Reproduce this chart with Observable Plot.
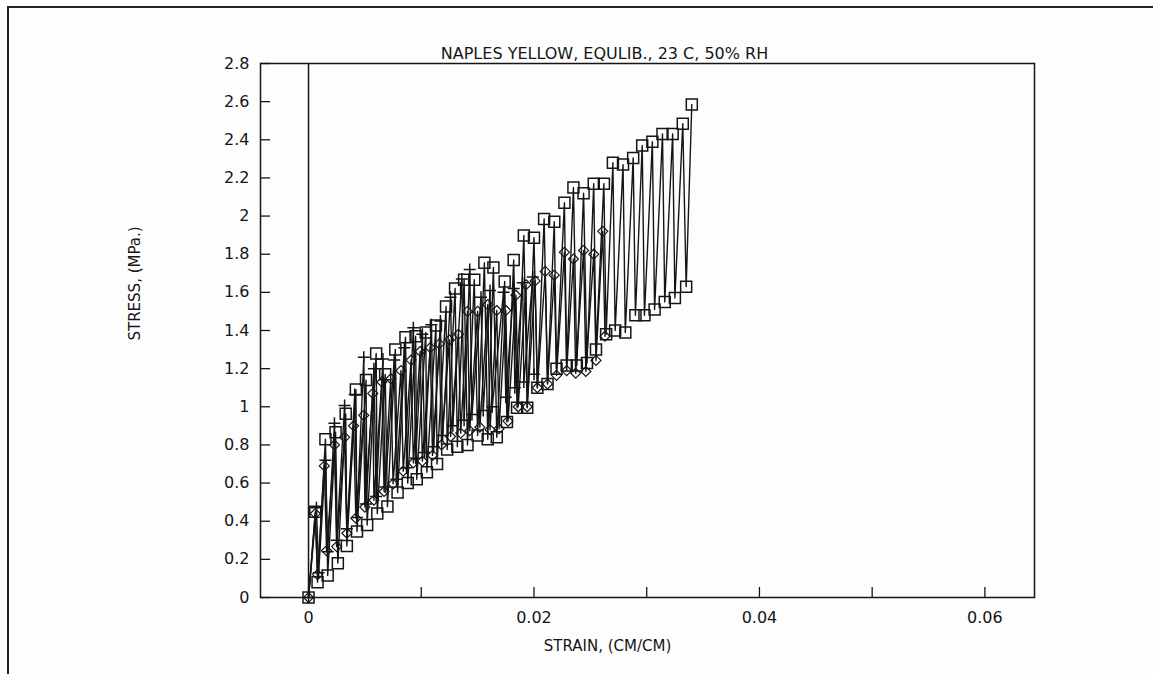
<!DOCTYPE html>
<html>
<head>
<meta charset="utf-8">
<script src="https://cdn.jsdelivr.net/npm/d3@7"></script>
<script src="https://cdn.jsdelivr.net/npm/@observablehq/plot@0.6"></script>
<style>
  html, body { margin: 0; padding: 0; background: #fdfdfd; }
  #wrap { position: relative; width: 1153px; height: 674px; overflow: hidden; }
  #border { position: absolute; left: 7px; top: 6px; width: 1200px; height: 700px;
            border-left: 2px solid #222; border-top: 2px solid #222; }
  #chart { position: absolute; left: 0; top: 0; }
</style>
</head>
<body>
<div id="wrap"><div id="border"></div><div id="chart"></div></div>
<script>
const titleText = "NAPLES YELLOW, EQULIB., 23 C, 50% RH";
const xLabelText = "STRAIN, (CM/CM)";
const yLabelText = "STRESS, (MPa.)";
const xTickMarks = [0, 0.01, 0.02, 0.03, 0.04, 0.05, 0.06];
const xTickLabels = [0, 0.02, 0.04, 0.06];
const yTicks = [0, 0.2, 0.4, 0.6, 0.8, 1, 1.2, 1.4, 1.6, 1.8, 2, 2.2, 2.4, 2.6, 2.8];

// Squares series: [strain, stress] at peaks and relaxed (equilibrium) troughs
const squarePeaks = [
  [0.0006,0.45],[0.0015,0.83],[0.0024,0.867],[0.0033,0.963],[0.0042,1.09],[0.0051,1.14],
  [0.0060,1.28],[0.0068,1.17],[0.0077,1.30],[0.0086,1.365],[0.0095,1.37],[0.0104,1.39],
  [0.0113,1.426],[0.0122,1.526],[0.0130,1.62],[0.0138,1.666],[0.0147,1.666],[0.0156,1.755],
  [0.0164,1.73],[0.0174,1.657],[0.0182,1.77],[0.0191,1.898],[0.0200,1.886],[0.0209,1.985],
  [0.0218,1.97],[0.0227,2.07],[0.0235,2.15],[0.0244,2.12],[0.0253,2.17],[0.0262,2.17],
  [0.0270,2.28],[0.0279,2.27],[0.0288,2.305],[0.0296,2.37],[0.0305,2.39],[0.0314,2.43],
  [0.0323,2.43],[0.0332,2.484],[0.0340,2.585]
];
const squareTroughs = [
  [0.0008,0.08],[0.0017,0.115],[0.0026,0.18],[0.0034,0.27],[0.0043,0.346],[0.0052,0.38],
  [0.0061,0.44],[0.0070,0.477],[0.0079,0.55],[0.0088,0.60],[0.0096,0.62],[0.0105,0.657],
  [0.0114,0.70],[0.0123,0.776],[0.0132,0.79],[0.0141,0.80],[0.0150,0.85],[0.0159,0.83],
  [0.0167,0.84],[0.0176,0.92],[0.0185,0.995],[0.0194,0.995],[0.0203,1.10],[0.0212,1.12],
  [0.0220,1.20],[0.0229,1.217],[0.0238,1.217],[0.0247,1.23],[0.0255,1.30],[0.0264,1.38],
  [0.0272,1.40],[0.0281,1.39],[0.0290,1.48],[0.0298,1.48],[0.0307,1.51],[0.0316,1.55],
  [0.0325,1.57],[0.0335,1.63]
];

// Plus series
const plusPeaks = [
  [0.0007,0.47],[0.0015,0.72],[0.0023,0.914],[0.0032,1.007],[0.0041,1.065],[0.0049,1.26],
  [0.0058,1.20],[0.0066,1.25],[0.0076,1.245],[0.0085,1.31],[0.0093,1.415],[0.0101,1.38],
  [0.0109,1.43],[0.0117,1.45],[0.0126,1.575],[0.0136,1.67],[0.0143,1.72],[0.0153,1.575],
  [0.0161,1.61],[0.0173,1.60],[0.0182,1.62],[0.0190,1.65],[0.0199,1.68]
];
const plusTroughs = [
  [0.0009,0.13],[0.0017,0.24],[0.0025,0.30],[0.0034,0.36],[0.0043,0.42],[0.0051,0.49],
  [0.0060,0.53],[0.0068,0.58],[0.0078,0.62],[0.0087,0.68],[0.0095,0.73],[0.0103,0.76],
  [0.0111,0.79],[0.0119,0.85],[0.0128,0.90],[0.0138,0.93],[0.0145,0.96],[0.0155,0.98],
  [0.0163,1.00],[0.0175,1.05],[0.0183,1.10],[0.0191,1.13],[0.0200,1.17]
];

// Diamond series
const diamondPeaks = [
  [0.0006,0.44],[0.0014,0.69],[0.0023,0.80],[0.0032,0.84],[0.0040,0.90],[0.0049,0.955],
  [0.0057,1.07],[0.0065,1.13],[0.0073,1.147],[0.0082,1.19],[0.0091,1.245],[0.0099,1.29],
  [0.0108,1.31],[0.0116,1.33],[0.0125,1.35],[0.0133,1.38],[0.0141,1.50],[0.0150,1.50],
  [0.0159,1.536],[0.0167,1.505],[0.0175,1.505],[0.0184,1.585],[0.0193,1.64],[0.0201,1.66],
  [0.0210,1.71],[0.0218,1.69],[0.0227,1.81],[0.0235,1.775],[0.0244,1.82],[0.0253,1.80],
  [0.0261,1.92]
];
const diamondTroughs = [
  [0.0008,0.12],[0.0016,0.246],[0.0025,0.267],[0.0034,0.337],[0.0042,0.416],[0.0050,0.474],
  [0.0058,0.51],[0.0067,0.556],[0.0075,0.596],[0.0084,0.662],[0.0093,0.706],[0.0101,0.715],
  [0.0110,0.745],[0.0118,0.80],[0.0126,0.844],[0.0135,0.862],[0.0143,0.875],[0.0152,0.893],
  [0.0161,0.88],[0.0169,0.885],[0.0177,0.925],[0.0186,1.0],[0.0194,1.0],[0.0203,1.10],
  [0.0212,1.12],[0.0220,1.165],[0.0229,1.19],[0.0237,1.176],[0.0246,1.185],[0.0255,1.243],
  [0.0263,1.37]
];

function cycle(peaks, troughs) {
  const out = [{x: 0, y: 0}];
  peaks.forEach((p, i) => {
    out.push({x: p[0], y: p[1]});
    if (troughs[i]) out.push({x: troughs[i][0], y: troughs[i][1]});
  });
  return out;
}
const squares = cycle(squarePeaks, squareTroughs);
const pluses = cycle(plusPeaks, plusTroughs);
const diamonds = cycle(diamondPeaks, diamondTroughs);

const symSquare = {draw(ctx, size) { const s = Math.sqrt(size / Math.PI); ctx.rect(-s, -s, 2 * s, 2 * s); }};
const symPlus = {draw(ctx, size) { const s = Math.sqrt(size / Math.PI);
  ctx.moveTo(-s, 0); ctx.lineTo(s, 0); ctx.moveTo(0, -s); ctx.lineTo(0, s); }};
const symDiamond = {draw(ctx, size) { const s = Math.sqrt(size / Math.PI);
  ctx.moveTo(0, -s); ctx.lineTo(s, 0); ctx.lineTo(0, s); ctx.lineTo(-s, 0); ctx.closePath(); }};

const ink = "#151515";
const font = "'DejaVu Sans', sans-serif";

const chart = Plot.plot({
  width: 1153,
  height: 674,
  marginLeft: 260,
  marginRight: 119,
  marginTop: 63,
  marginBottom: 77,
  style: {fontFamily: font, fontSize: "16px", color: ink, background: "transparent"},
  x: {domain: [-0.00426, 0.0644]},
  y: {domain: [0, 2.8]},
  marks: [
    Plot.frame({stroke: ink, strokeWidth: 1.5}),
    Plot.ruleX([0], {stroke: ink, strokeWidth: 1.5}),
    Plot.tickX(xTickMarks, {x: d => d, stroke: ink, strokeWidth: 1.3, insetTop: 524}),
    Plot.tickY(yTicks, {y: d => d, stroke: ink, strokeWidth: 1.3, insetRight: 764}),
    Plot.axisX(xTickLabels, {tickSize: 0, tickPadding: 14, label: null, tickFormat: d => String(d), fontSize: 16}),
    Plot.axisY(yTicks, {tickSize: 0, tickPadding: 11, label: null, tickFormat: d => String(d), fontSize: 16}),
    Plot.line(diamonds, {x: "x", y: "y", stroke: ink, strokeWidth: 1.4}),
    Plot.line(pluses, {x: "x", y: "y", stroke: ink, strokeWidth: 1.4}),
    Plot.line(squares, {x: "x", y: "y", stroke: ink, strokeWidth: 1.4}),
    Plot.dot(diamonds, {x: "x", y: "y", symbol: symDiamond, r: 5, fill: "none", stroke: ink, strokeWidth: 1.2}),
    Plot.dot(pluses, {x: "x", y: "y", symbol: symPlus, r: 6, fill: "none", stroke: ink, strokeWidth: 1.5}),
    Plot.dot(squares, {x: "x", y: "y", symbol: symSquare, r: 5.5, fill: "none", stroke: ink, strokeWidth: 1.5}),
    Plot.text([titleText], {text: d => d, frameAnchor: "top", dx: -43, dy: -16, fontSize: 16, fill: ink}),
    Plot.text([xLabelText], {text: d => d, frameAnchor: "bottom", dx: -40, dy: 53, fontSize: 15, fill: ink}),
    Plot.text([yLabelText], {text: d => d, frameAnchor: "left", dx: -125, dy: 10, rotate: -90, fontSize: 15, fill: ink})
  ]
});
document.getElementById("chart").appendChild(chart);
</script>
</body>
</html>
